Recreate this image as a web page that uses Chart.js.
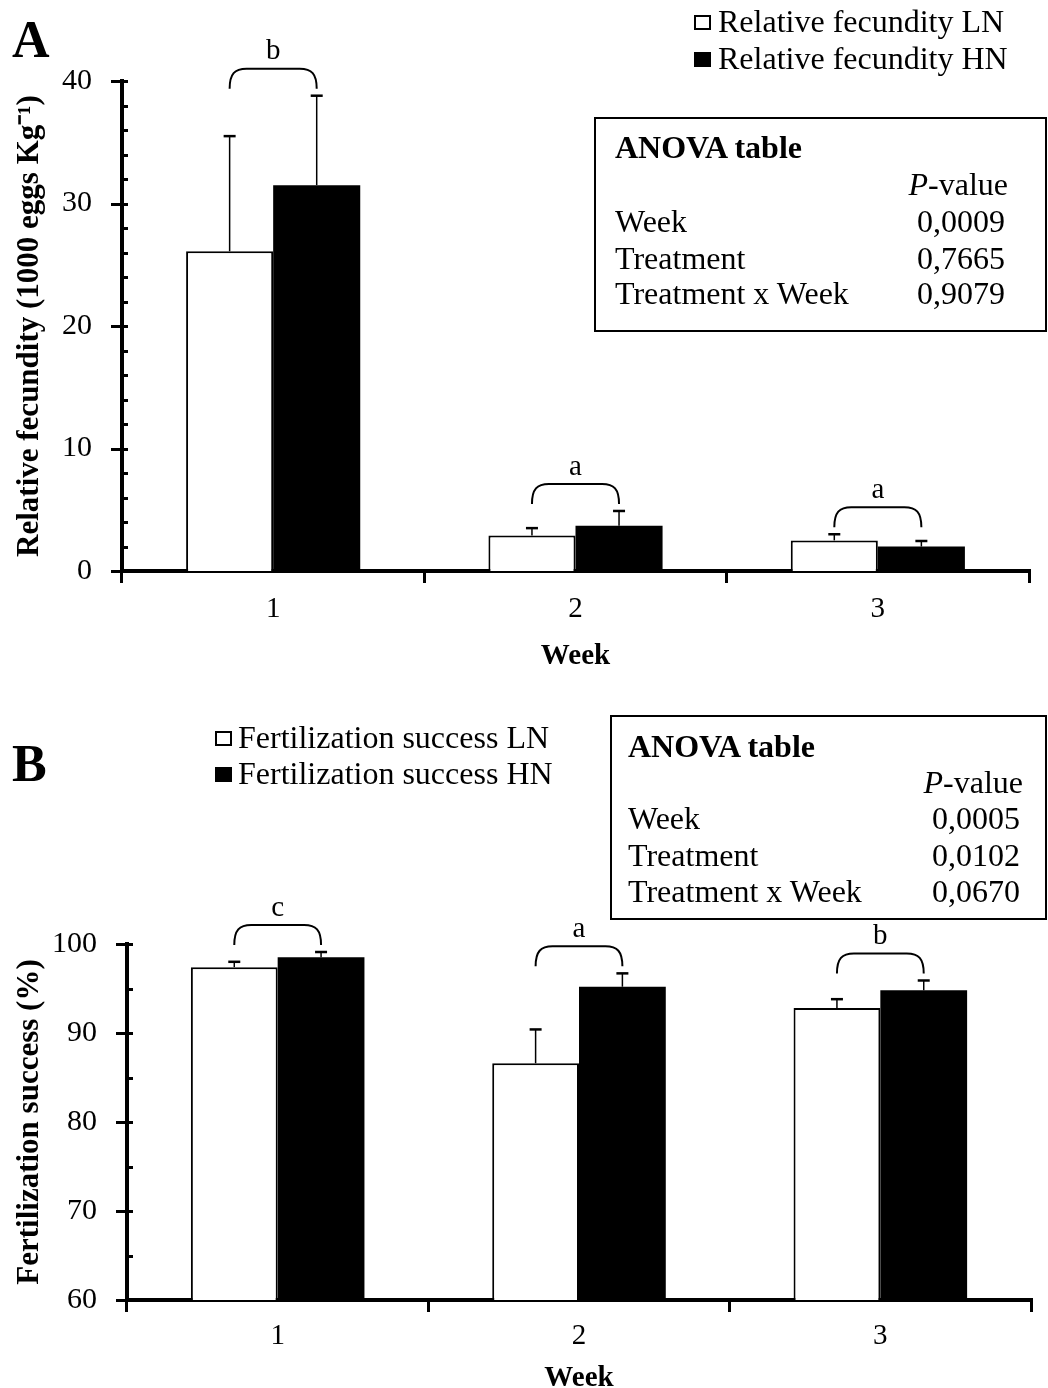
<!DOCTYPE html>
<html>
<head>
<meta charset="utf-8">
<script src="https://cdn.jsdelivr.net/npm/chart.js@4.4.0/dist/chart.umd.min.js"></script>
<style>
body { margin: 0; background: #fff; overflow: hidden; }
#page { position: relative; width: 1048px; height: 1388px; overflow: hidden; font-family: 'Liberation Serif', 'Times New Roman', serif; color: #000; }
canvas { position: absolute; left: 0; }
.txt { position: absolute; white-space: nowrap; font-size: 32px; line-height: 36px; }
.box { position: absolute; border: 2px solid #000; box-sizing: border-box; }
.sq { position: absolute; width: 17px; height: 15px; box-sizing: border-box; border: 2px solid #000; }
.panel { position: absolute; font-weight: bold; font-size: 52px; line-height: 52px; }
</style>
</head>
<body>
<div id="page">
  <canvas id="chartA" width="1048" height="680" style="top:0px"></canvas>
  <canvas id="chartB" width="1048" height="730" style="top:680px"></canvas>
  <div class="panel" style="left:12px; top:14px;">A</div>
  <div class="panel" style="left:12px; top:738px;">B</div>
</div>
<script>
var weeks = ["1", "2", "3"];

// A: relative fecundity (1000 eggs/kg), mean and SE
var fecLN = [26.1, 2.9, 2.5];
var fecLNerr = [9.4, 0.6, 0.5];
var fecHN = [31.5, 3.7, 2.0];
var fecHNerr = [7.3, 1.2, 0.45];
var fecLetters = ["b", "a", "a"];
var fecYLabels = [0, 10, 20, 30, 40];

// B: fertilization success (%)
var fertLN = [97.4, 86.6, 92.8];
var fertLNerr = [0.6, 3.8, 1.0];
var fertHN = [98.5, 95.2, 94.8];
var fertHNerr = [0.6, 1.5, 1.1];
var fertLetters = ["c", "a", "b"];
var fertYLabels = [60, 70, 80, 90, 100];

var anovaA = [["Week", "0,0009"], ["Treatment", "0,7665"], ["Treatment x Week", "0,9079"]];
var anovaB = [["Week", "0,0005"], ["Treatment", "0,0102"], ["Treatment x Week", "0,0670"]];

var SERIF = "'Liberation Serif', 'Times New Roman', serif";
Chart.defaults.font.family = SERIF;
Chart.defaults.color = "#000";

// error bars, brackets and letters
var errorBars = {
  id: "errorBars",
  afterDatasetsDraw: function(chart, args, opts) {
    var ctx = chart.ctx, y = chart.scales.y;
    var tops = [];
    ctx.save();
    ctx.strokeStyle = "#000";
    chart.data.datasets.forEach(function(ds, i) {
      var meta = chart.getDatasetMeta(i);
      meta.data.forEach(function(bar, j) {
        var top = y.getPixelForValue(ds.data[j] + ds.errors[j]);
        ctx.lineWidth = 1.5;
        ctx.beginPath(); ctx.moveTo(bar.x, bar.y); ctx.lineTo(bar.x, top); ctx.stroke();
        ctx.lineWidth = 2.5;
        ctx.beginPath(); ctx.moveTo(bar.x - 6, top); ctx.lineTo(bar.x + 6, top); ctx.stroke();
        tops[j] = tops[j] === undefined ? top : Math.min(tops[j], top);
      });
    });
    var m0 = chart.getDatasetMeta(0), m1 = chart.getDatasetMeta(1);
    ctx.lineWidth = 2;
    ctx.fillStyle = "#000";
    ctx.font = "29px " + SERIF;
    ctx.textAlign = "center";
    ctx.textBaseline = "middle";
    opts.letters.forEach(function(letter, j) {
      var x1 = m0.data[j].x, x2 = m1.data[j].x;
      var yb = tops[j] - 7, yt = yb - 20, r = 17;
      ctx.beginPath();
      ctx.moveTo(x1, yb);
      ctx.bezierCurveTo(x1, yt + 5, x1 + 5, yt, x1 + r, yt);
      ctx.lineTo(x2 - r, yt);
      ctx.bezierCurveTo(x2 - 5, yt, x2, yt + 5, x2, yb);
      ctx.stroke();
      ctx.fillText(letter, (x1 + x2) / 2, yt - 17);
    });
    ctx.restore();
  }
};

// y tick marks: major ones cross the axis, minor ones point inward
var yTickMarks = {
  id: "yTickMarks",
  afterDraw: function(chart) {
    var s = chart.scales.y, ctx = chart.ctx, ax = chart.chartArea.left;
    ctx.save();
    ctx.strokeStyle = "#000";
    ctx.lineWidth = 3;
    s.ticks.forEach(function(t) {
      var py = Math.round(s.getPixelForValue(t.value)) + 0.5;
      var major = t.label !== "";
      ctx.beginPath();
      ctx.moveTo(major ? ax - 11 : ax, py);
      ctx.lineTo(ax + 6, py);
      ctx.stroke();
    });
    ctx.restore();
  }
};

function makeChart(id, cfg) {
  return new Chart(document.getElementById(id), {
    type: "bar",
    data: {
      labels: weeks,
      datasets: [
        { label: cfg.names[0], data: cfg.ln, errors: cfg.lnErr, backgroundColor: "#fff", borderColor: "#000", borderWidth: 2 },
        { label: cfg.names[1], data: cfg.hn, errors: cfg.hnErr, backgroundColor: "#000", borderColor: "#000", borderWidth: 0 }
      ]
    },
    options: {
      responsive: false,
      animation: false,
      layout: { padding: cfg.padding },
      datasets: { bar: { categoryPercentage: 0.576, barPercentage: 1 } },
      plugins: {
        legend: { display: false },
        tooltip: { enabled: false },
        errorBars: { letters: cfg.letters }
      },
      scales: {
        x: {
          offset: true,
          grid: { display: true, offset: true, drawOnChartArea: false, drawTicks: true, tickLength: 12, lineWidth: 3, color: "#000" },
          border: { display: true, width: 4, color: "#000" },
          ticks: { font: { size: 29 }, padding: cfg.xPad, color: "#000" },
          title: { display: true, text: "Week", color: "#000", font: { size: 29, weight: "bold" }, padding: { top: 0, bottom: cfg.xTitlePad } },
          afterFit: function(s) { s.height = cfg.xHeight; }
        },
        y: {
          min: cfg.min,
          max: cfg.max,
          grid: { display: false, drawTicks: false },
          border: { display: true, width: 4, color: "#000" },
          ticks: {
            stepSize: cfg.step, padding: 30, autoSkip: false, color: "#000", font: { size: 30 },
            callback: function(v) { return cfg.yLabels.indexOf(v) >= 0 ? String(v) : ""; }
          },
          title: { display: true, text: cfg.yTitle, color: "#000", font: { size: 31, weight: "bold" }, padding: { top: 11, bottom: 0 } },
          afterFit: function(s) { s.width = cfg.yWidth; }
        }
      }
    },
    plugins: [errorBars, yTickMarks]
  });
}

makeChart("chartA", {
  names: ["Relative fecundity LN", "Relative fecundity HN"],
  ln: fecLN, lnErr: fecLNerr, hn: fecHN, hnErr: fecHNerr,
  letters: fecLetters, yLabels: fecYLabels,
  min: 0, max: 40, step: 2,
  yTitle: "Relative fecundity (1000 eggs Kg\u207B\u00B9)",
  padding: { top: 81, right: 19, bottom: 0, left: 0 },
  yWidth: 122, xHeight: 109, xPad: 9, xTitlePad: 6
});

makeChart("chartB", {
  names: ["Fertilization success LN", "Fertilization success HN"],
  ln: fertLN, lnErr: fertLNerr, hn: fertHN, hnErr: fertHNerr,
  letters: fertLetters, yLabels: fertYLabels,
  min: 60, max: 100, step: 5,
  yTitle: "Fertilization success (%)",
  padding: { top: 264, right: 17, bottom: 0, left: 0 },
  yWidth: 127, xHeight: 110, xPad: 7, xTitlePad: 14
});

// legends and ANOVA boxes as html text
var page = document.getElementById("page");
function addText(text, x, cy, align, extra) {
  var d = document.createElement("div");
  d.className = "txt";
  d.innerHTML = text;
  d.style.top = (cy - 18) + "px";
  if (align === "right") d.style.right = (1048 - x) + "px";
  else d.style.left = x + "px";
  if (extra) d.style.fontWeight = extra;
  page.appendChild(d);
}
function addSquare(x, top, filled) {
  var d = document.createElement("div");
  d.className = "sq";
  d.style.left = x + "px";
  d.style.top = top + "px";
  d.style.background = filled ? "#000" : "#fff";
  page.appendChild(d);
}
function addLegend(names, sqX, txtX, rows) {
  names.forEach(function(n, i) {
    addSquare(sqX, rows[i] - 6, i === 1);
    addText(n, txtX, rows[i]);
  });
}
function addAnova(rows, box, lx, rx, ys) {
  var b = document.createElement("div");
  b.className = "box";
  b.style.left = box[0] + "px"; b.style.top = box[1] + "px";
  b.style.width = (box[2] - box[0]) + "px"; b.style.height = (box[3] - box[1]) + "px";
  page.appendChild(b);
  addText("ANOVA table", lx, ys[0], "left", "bold");
  addText("<i>P</i>-value", rx + 3, ys[1], "right");
  rows.forEach(function(r, i) {
    addText(r[0], lx, ys[i + 2]);
    addText(r[1], rx, ys[i + 2], "right");
  });
}

addLegend(["Relative fecundity LN", "Relative fecundity HN"], 694, 718, [21, 58]);
addLegend(["Fertilization success LN", "Fertilization success HN"], 215, 238, [737, 773]);
addAnova(anovaA, [594, 117, 1047, 332], 615, 1005, [147, 184, 221, 258, 293]);
addAnova(anovaB, [610, 715, 1047, 920], 628, 1020, [746, 782, 818, 855, 891]);
</script>
</body>
</html>
